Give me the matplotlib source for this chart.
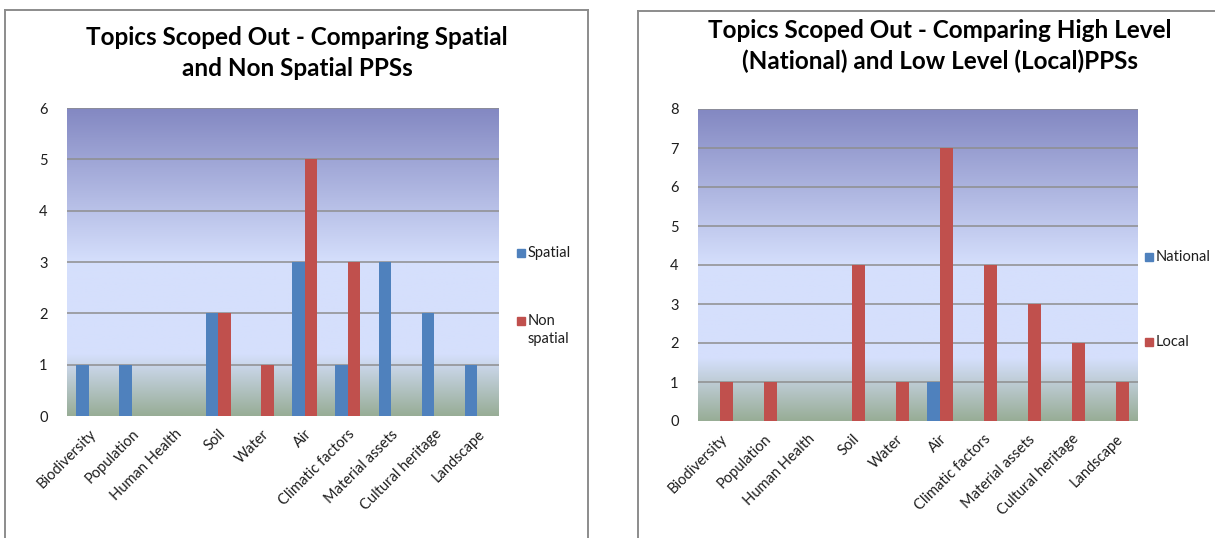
import matplotlib
matplotlib.use('Agg')
import matplotlib.pyplot as plt
import numpy as np
from matplotlib.colors import LinearSegmentedColormap
from matplotlib.patches import Rectangle
from matplotlib.lines import Line2D

plt.rcParams['font.family'] = ['Lato', 'DejaVu Sans']

topics = ['Biodiversity', 'Population', 'Human Health', 'Soil', 'Water', 'Air',
          'Climatic factors', 'Material assets', 'Cultural heritage', 'Landscape']

spatial = [1, 1, 0, 2, 0, 3, 1, 3, 2, 1]
non_spatial = [0, 0, 0, 2, 1, 5, 3, 0, 0, 0]

national = [0, 0, 0, 0, 0, 1, 0, 0, 0, 0]
local = [1, 1, 0, 4, 1, 7, 4, 3, 2, 1]

title_left = 'Topics Scoped Out - Comparing Spatial\nand Non Spatial PPSs'
title_right = 'Topics Scoped Out - Comparing High Level\n(National) and Low Level (Local)PPSs'

BLUE = '#4F81BD'
RED = '#C0504D'
W, H = 1215, 538

fig = plt.figure(figsize=(W / 100, H / 100), dpi=100)

def fx(x):
    return x / W

def fy(y):
    return 1 - y / H

# excel style plot-area fill: purple top -> light blue -> greyish green bottom
grad = LinearSegmentedColormap.from_list('excel', [
    (0.0, '#8388C2'), (0.5, '#D5DFFC'), (0.80, '#D5DFFC'), (1.0, '#98AD96')])


def panel_border(x0, y0, x1):
    kw = dict(color='#8C8C8C', lw=1.4, transform=fig.transFigure)
    fig.add_artist(Line2D([fx(x0), fx(x0)], [fy(y0), 0], **kw))
    fig.add_artist(Line2D([fx(x0), fx(x1)], [fy(y0), fy(y0)], **kw))
    if x1 < W:
        fig.add_artist(Line2D([fx(x1), fx(x1)], [fy(y0), 0], **kw))


def bar_chart(box, a, b, ymax):
    x0, y0, x1, y1 = box
    ax = fig.add_axes([fx(x0), fy(y1), fx(x1 - x0), (y1 - y0) / H])
    n = len(topics)
    ax.imshow(np.linspace(0, 1, 256).reshape(-1, 1), cmap=grad, aspect='auto',
              extent=[-0.5, n - 0.5, 0, ymax], zorder=0)
    for v in range(1, ymax + 1):
        ax.axhline(v, color='#8E8E8E', lw=1.1, zorder=1)
    idx = np.arange(n)
    w = 1 / 3.5
    ax.bar(idx - w / 2, a, w, color=BLUE, lw=0, zorder=2)
    ax.bar(idx + w / 2, b, w, color=RED, lw=0, zorder=2)
    ax.set_xlim(-0.5, n - 0.5)
    ax.set_ylim(0, ymax)
    ax.set_yticks(range(ymax + 1))
    ax.set_xticks(idx)
    ax.set_xticklabels(topics, rotation=45, ha='right', va='top',
                       rotation_mode='anchor', fontsize=10.5, color='#1E1E1E')
    ax.tick_params(axis='both', length=0, labelsize=10.5, colors='#1E1E1E')
    ax.tick_params(axis='y', pad=14)
    ax.tick_params(axis='x', pad=8)
    for s in ax.spines.values():
        s.set_visible(False)
    return ax


def legend(x, items):
    for y, label, col in items:
        fig.add_artist(Rectangle((fx(x), fy(y + 4)), fx(8), 8 / H, color=col,
                                 transform=fig.transFigure))
        fig.text(fx(x + 11), fy(y), label, fontsize=10.5, color='#1E1E1E',
                 va='center', ha='left', linespacing=1.3)


panel_border(5, 9.5, 588)
panel_border(638, 10.5, W + 5)

bar_chart((67, 108, 499, 416), spatial, non_spatial, 6)
bar_chart((698, 109, 1138, 421), national, local, 8)

fig.text(fx(297), fy(53), title_left, ha='center', va='center', fontsize=17.5,
         fontweight='bold', linespacing=1.38)
fig.text(fx(940), fy(46), title_right, ha='center', va='center', fontsize=17.5,
         fontweight='bold', linespacing=1.38)

legend(517, [(253, 'Spatial', BLUE), (321, 'Non', RED)])
fig.text(fx(528), fy(339), 'spatial', fontsize=10.5, color='#1E1E1E', va='center')
legend(1145, [(257, 'National', BLUE), (342, 'Local', RED)])

fig.savefig('out.png', dpi=100)
